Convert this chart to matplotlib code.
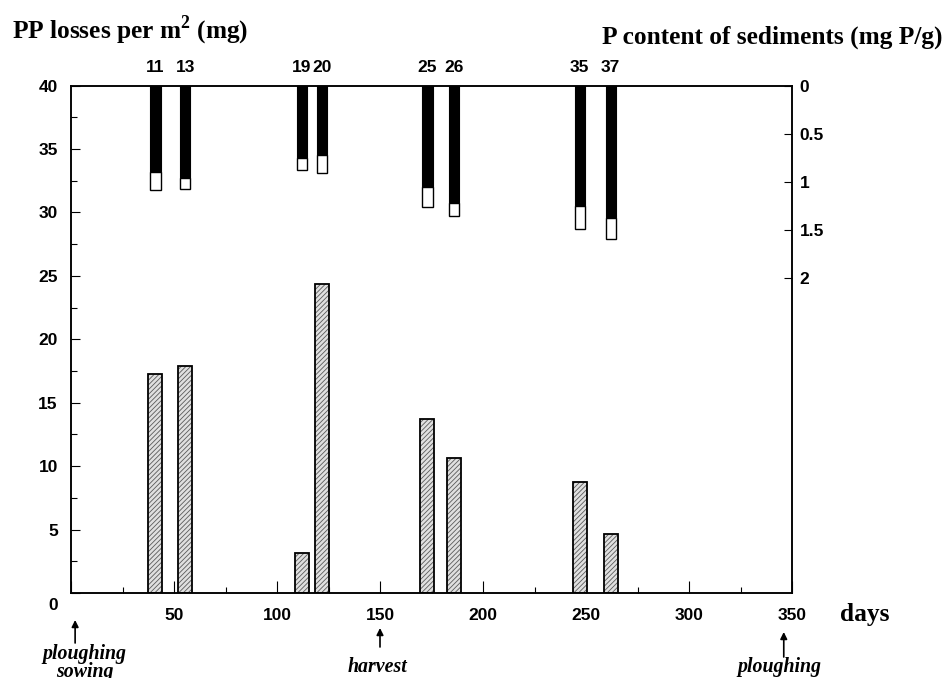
import matplotlib
matplotlib.use('Agg')
import matplotlib.pyplot as plt
from matplotlib.transforms import blended_transform_factory, ScaledTranslation

# ---------------- data ----------------
event_days = [41, 55.5, 112, 122, 173, 186, 247, 262]
event_labels = ['11', '13', '19', '20', '25', '26', '35', '37']
pp_losses = [17.25, 17.9, 3.15, 24.35, 13.75, 10.65, 8.75, 4.65]
p_content_black = [0.90, 0.96, 0.76, 0.72, 1.06, 1.22, 1.25, 1.38]
p_content_white = [1.09, 1.08, 0.875, 0.91, 1.27, 1.36, 1.49, 1.60]

left_ticks = [0, 5, 10, 15, 20, 25, 30, 35, 40]
left_tick_labels = ['0', '5', '10', '15', '20', '25', '30', '35', '40']
right_ticks = [0, 0.5, 1, 1.5, 2]
right_tick_labels = ['0', '0.5', '1', '1.5', '2']
x_ticks = [0, 50, 100, 150, 200, 250, 300, 350]
x_tick_labels = ['', '50', '100', '150', '200', '250', '300', '350']

field_days = [2, 150, 346]
field_events = ['ploughing\nsowing', 'harvest', 'ploughing']

# ---------------- style ----------------
W, H = 944, 678
plt.rcParams['hatch.linewidth'] = 0.6
plt.rcParams['mathtext.fontset'] = 'custom'
plt.rcParams['mathtext.rm'] = 'Liberation Serif:bold'
plt.rcParams['mathtext.bf'] = 'Liberation Serif:bold'
sans_bold = dict(family='Liberation Sans', weight='bold', size=12.5)
serif_bold = dict(family='Liberation Serif', weight='bold', size=18.3)
serif_it = dict(family='Liberation Serif', weight='bold', style='italic', size=14.3)

fig = plt.figure(figsize=(W / 100, H / 100), dpi=100)
L, R, T, B = 71, 792, 85.5, 593
ax = fig.add_axes([L / W, 1 - B / H, (R - L) / W, (B - T) / H])
ax2 = ax.twinx()

# hatched bars: PP losses
ax.bar(event_days, pp_losses, width=6.8, facecolor='#e0e0e0',
       edgecolor='#5a5a5a', hatch='///////', linewidth=0, zorder=2)
ax.bar(event_days, pp_losses, width=6.8, facecolor='none',
       edgecolor='black', linewidth=1.3, zorder=3)

# P content bars on inverted right axis
white_part = [w - b for w, b in zip(p_content_white, p_content_black)]
ax2.bar(event_days, p_content_black, width=5.0, color='black',
        edgecolor='black', linewidth=0.8, zorder=3)
ax2.bar(event_days, white_part, bottom=p_content_black, width=5.0,
        color='white', edgecolor='black', linewidth=1.0, zorder=3)

ax.set_xlim(0, 350)
ax.set_ylim(0, 40)
ax2.set_ylim((B - T) / 96.0, 0)

ax.set_xticks(x_ticks)
ax.set_xticklabels(x_tick_labels, **sans_bold)
ax.set_xticks([25, 75, 125, 175, 225, 275, 325], minor=True)
ax.set_yticks(left_ticks)
ax.set_yticklabels(left_tick_labels, **sans_bold)
ax.set_yticks([2.5 + 5 * i for i in range(8)], minor=True)
ax2.set_yticks(right_ticks)
ax2.set_yticklabels(right_tick_labels, **sans_bold)

ax.tick_params(axis='x', which='major', direction='in', length=8.5, width=0.8, pad=11)
ax.tick_params(axis='x', which='minor', direction='in', length=4.3, width=0.8)
ax.tick_params(axis='y', which='major', direction='in', length=6.5, width=0.8, pad=9.5)
ax.tick_params(axis='y', which='minor', direction='in', length=4.3, width=0.8)
ax2.tick_params(axis='y', which='major', direction='in', length=6, width=0.8, pad=5.5)

for a in (ax, ax2):
    for s in a.spines.values():
        s.set_linewidth(1.1)

# shift the y "0" label down slightly as in the reference
for lbl in ax.get_yticklabels():
    if lbl.get_text() == '0':
        lbl.set_transform(lbl.get_transform() + ScaledTranslation(0, -11 / 100, fig.dpi_scale_trans))

# event numbers above the top bars
tr_top = blended_transform_factory(ax.transData, fig.transFigure)
for d, lab in zip(event_days, event_labels):
    fig.text(d, 1 - 68 / H, lab, transform=tr_top, ha='center', va='center', **sans_bold)

# titles
fig.text(12 / W, 1 - 31 / H, r'PP losses per m$^{\mathbf{2}}$ (mg)', ha='left', va='center', **serif_bold)
fig.text(943 / W, 1 - 37 / H, 'P content of sediments (mg P/g)', ha='right', va='center', **serif_bold)
fig.text(840 / W, 1 - 615 / H, 'days', ha='left', va='center', **serif_bold)

# field operation arrows
arrow_geom = [(620, 643, 663, 4.5), (628, 647, 667, -1), (632, 657, 667, -2)]
for d, name, (tip, tail, ty, dx) in zip(field_days, field_events, arrow_geom):
    ax.annotate('', xy=(d, 1 - tip / H), xytext=(d, 1 - tail / H),
                xycoords=tr_top, textcoords=tr_top,
                arrowprops=dict(arrowstyle='-|>', color='black', lw=1.2,
                                mutation_scale=10, shrinkA=0, shrinkB=0),
                annotation_clip=False)
    fig.text(d + dx, 1 - ty / H, name, transform=tr_top, ha='center', va='center',
             linespacing=0.9, **serif_it)

fig.savefig('out.png', dpi=100)
